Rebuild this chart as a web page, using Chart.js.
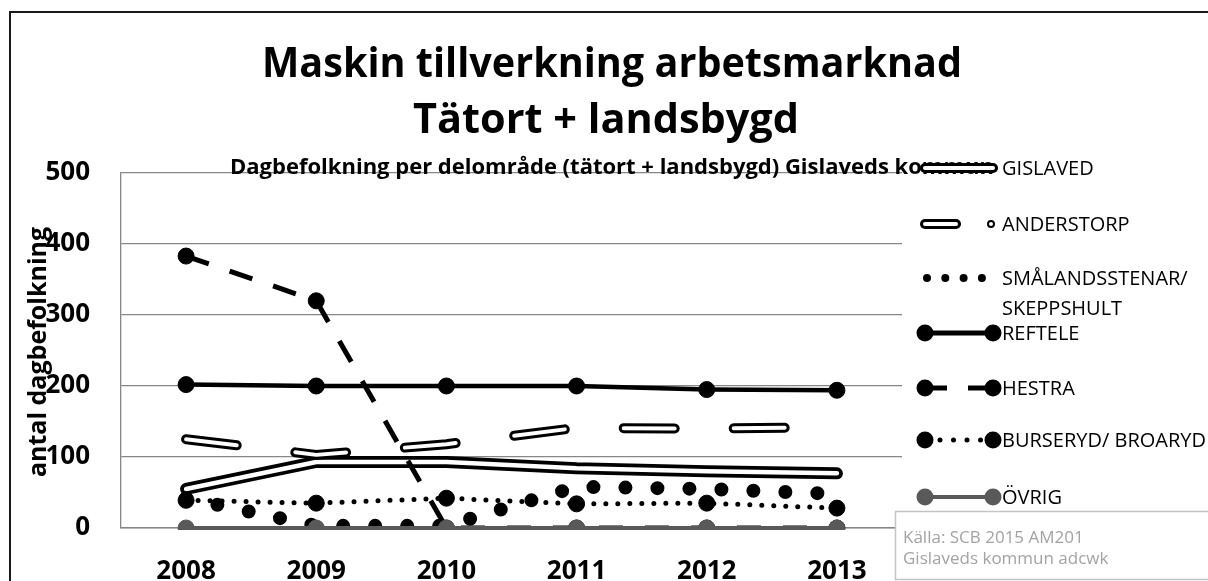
<!DOCTYPE html>
<html>
<head>
<meta charset="utf-8">
<script src="https://cdn.jsdelivr.net/npm/chart.js@4.4.1/dist/chart.umd.min.js"></script>
<style>
html, body { margin: 0; padding: 0; background: #fff; }
</style>
</head>
<body>
<canvas id="chart" width="1208" height="581"></canvas>
<script>
'use strict'

// värden
const years = ['2008', '2009', '2010', '2011', '2012', '2013'];
const gislaved = [55, 93, 93, 84, 80, 77];
const anderstorp = [125, 103, 118, 141, 140, 142];
const smalandsstenar = [42, 3, 3, 58, 55, 48];
const reftele = [202, 200, 200, 200, 195, 194];
const hestra = [383, 320, 0, 0, 0, 0];
const burseryd = [39, 35, 42, 34, 35, 28];
const ovrig = [0, 0, 0, 0, 0, 0];
const yTicks = [0, 100, 200, 300, 400, 500];

const FONT = '"Open Sans", "Noto Sans", sans-serif';
const black = '#000000';
const grey = '#595959';
const gridGrey = '#878787';

// gemensamma inställningar för en linje
function series(label, data, order, extra) {
    return Object.assign({
        label: label,
        data: data,
        order: order,
        fill: false,
        tension: 0,
        borderColor: black,
        backgroundColor: black,
        pointRadius: 0,
        pointHoverRadius: 0,
        pointBorderWidth: 1,
        borderCapStyle: 'round',
        borderJoinStyle: 'round',
        clip: { left: 20, right: 20, top: 20, bottom: 2 }
    }, extra);
}

const datasets = [
    series('GISLAVED', gislaved, 14, {
        borderWidth: 12,
        legend: { y: 168, width: 10, inner: 4 }
    }),
    series('', gislaved, 13, { borderWidth: 4.5, borderColor: '#fff', inner: true }),
    series('ANDERSTORP', anderstorp, 12, {
        borderWidth: 10, borderDash: [51, 59],
        legend: { y: 224, width: 10, inner: 4, x1: 956, marker: 'right', markerRadius: 3 }
    }),
    series('', anderstorp, 11, { borderWidth: 4, borderDash: [51, 59], borderColor: '#fff', inner: true }),
    series('SMÅLANDSSTENAR/ SKEPPSHULT', smalandsstenar, 10, {
        borderWidth: 14, borderDash: [0, 32],
        legend: { y: 278, width: 8, dash: [0, 18.3], x0: 927, x1: 982, lines: ['SMÅLANDSSTENAR/', 'SKEPPSHULT'] }
    }),
    series('REFTELE', reftele, 9, {
        borderWidth: 4.5, pointRadius: 8,
        legend: { y: 333, width: 5, marker: 'both' }
    }),
    series('HESTRA', hestra, 8, {
        borderWidth: 5, borderDash: [24, 22], borderCapStyle: 'butt', pointRadius: 8,
        legend: { y: 388, width: 5, dash: [22, 21], cap: 'butt', marker: 'both' }
    }),
    series('BURSERYD/ BROARYD', burseryd, 7, {
        borderWidth: 5, borderDash: [0, 12], pointRadius: 8,
        legend: { y: 440, width: 5, dash: [0, 13.5], x0: 926.5, marker: 'both' }
    }),
    series('ÖVRIG', ovrig, 6, {
        borderWidth: 4, borderColor: grey, backgroundColor: grey, pointRadius: 8,
        legend: { y: 497, width: 4, marker: 'both' }
    })
];

function drawText(ctx, str, x, y, font, color, align, maxW) {
    ctx.font = font;
    ctx.fillStyle = color;
    ctx.textAlign = align;
    ctx.textBaseline = 'alphabetic';
    if (maxW) ctx.fillText(str, x, y, maxW);
    else ctx.fillText(str, x, y);
}

// legendens provlinjer
function drawSample(ctx, ds) {
    const lg = ds.legend;
    const x0 = lg.x0 || 925;
    const x1 = lg.x1 || 993;
    const y = lg.y;
    ctx.save();
    ctx.lineCap = lg.cap || 'round';
    ctx.setLineDash(lg.dash || []);
    ctx.strokeStyle = ds.borderColor;
    ctx.lineWidth = lg.width;
    ctx.beginPath();
    ctx.moveTo(x0, y);
    ctx.lineTo(x1, y);
    ctx.stroke();
    if (lg.inner) {
        ctx.strokeStyle = '#fff';
        ctx.lineWidth = lg.inner;
        ctx.beginPath();
        ctx.moveTo(x0, y);
        ctx.lineTo(x1, y);
        ctx.stroke();
    }
    ctx.setLineDash([]);
    if (lg.marker === 'both') {
        [925, 993].forEach(function (mx) {
            ctx.fillStyle = ds.backgroundColor;
            ctx.beginPath();
            ctx.arc(mx, y, 8.5, 0, Math.PI * 2);
            ctx.fill();
        });
    } else if (lg.marker === 'right') {
        ctx.fillStyle = '#fff';
        ctx.strokeStyle = black;
        ctx.lineWidth = 2;
        ctx.beginPath();
        ctx.arc(991, y, lg.markerRadius, 0, Math.PI * 2);
        ctx.fill();
        ctx.stroke();
    }
    ctx.restore();
}

const decor = {
    id: 'decor',
    beforeDraw(chart) {
        const ctx = chart.ctx;
        ctx.save();
        ctx.fillStyle = '#fff';
        ctx.fillRect(0, 0, chart.width, chart.height);
        ctx.strokeStyle = '#1a1a1a';
        ctx.lineWidth = 2;
        ctx.strokeRect(10, 12, chart.width + 20, chart.height + 20);
        ctx.restore();
    },
    afterDraw(chart) {
        const ctx = chart.ctx;
        ctx.save();
        // rubriker
        drawText(ctx, 'Maskin tillverkning arbetsmarknad', 612, 77, 'bold 42px ' + FONT, black, 'center', 700);
        drawText(ctx, 'Tätort + landsbygd', 606, 133, 'bold 42px ' + FONT, black, 'center', 386);
        drawText(ctx, 'Dagbefolkning per delområde (tätort + landsbygd) Gislaveds kommun', 612, 174,
            'bold 22px ' + FONT, black, 'center', 765);

        // y-axelns titel
        ctx.save();
        ctx.translate(46, 352);
        ctx.rotate(-Math.PI / 2);
        drawText(ctx, 'antal dagbefolkning', 0, 0, 'bold 25px ' + FONT, black, 'center', 261);
        ctx.restore();

        // legend
        chart.data.datasets.forEach(function (ds) {
            if (ds.inner) return;
            drawSample(ctx, ds);
            const lines = ds.legend.lines || [ds.label];
            lines.forEach(function (t, i) {
                drawText(ctx, t, 1002, ds.legend.y + 7 + i * 30, '20px ' + FONT, black, 'left');
            });
        });

        // källruta
        ctx.fillStyle = '#fff';
        ctx.fillRect(895, 511, 330, 80);
        ctx.strokeStyle = '#c4c4c4';
        ctx.lineWidth = 1.5;
        ctx.strokeRect(895.5, 511.5, 330, 68);
        drawText(ctx, 'Källa: SCB 2015 AM201', 903, 543, '17px ' + FONT, '#a3a3a3', 'left', 202);
        drawText(ctx, 'Gislaveds kommun adcwk', 903, 564, '17px ' + FONT, '#a3a3a3', 'left', 228);
        ctx.restore();
    }
};

const myChart = new Chart(document.getElementById('chart'), {
    type: 'line',
    data: { labels: years, datasets: datasets },
    options: {
        responsive: false,
        animation: false,
        events: [],
        layout: { padding: { left: 0, top: 173, right: 306, bottom: 0 } },
        plugins: {
            legend: { display: false },
            title: { display: false },
            tooltip: { enabled: false }
        },
        scales: {
            x: {
                offset: true,
                grid: { display: false },
                border: { display: true, color: gridGrey, width: 1.5 },
                ticks: {
                    color: black,
                    padding: 20,
                    maxRotation: 0,
                    font: { family: FONT, size: 26, weight: 'bold' }
                },
                afterFit: function (scale) { scale.height = 53; }
            },
            y: {
                min: yTicks[0],
                max: yTicks[yTicks.length - 1],
                afterBuildTicks: function (scale) {
                    scale.ticks = yTicks.map(function (v) { return { value: v }; });
                },
                grid: { color: gridGrey, lineWidth: 1.3, drawTicks: false },
                border: { display: true, color: gridGrey, width: 1.3 },
                ticks: {
                    color: black,
                    padding: 31,
                    font: { family: FONT, size: 26, weight: 'bold' }
                },
                afterFit: function (scale) { scale.width = 121; }
            }
        }
    },
    plugins: [decor]
});
</script>
</body>
</html>
